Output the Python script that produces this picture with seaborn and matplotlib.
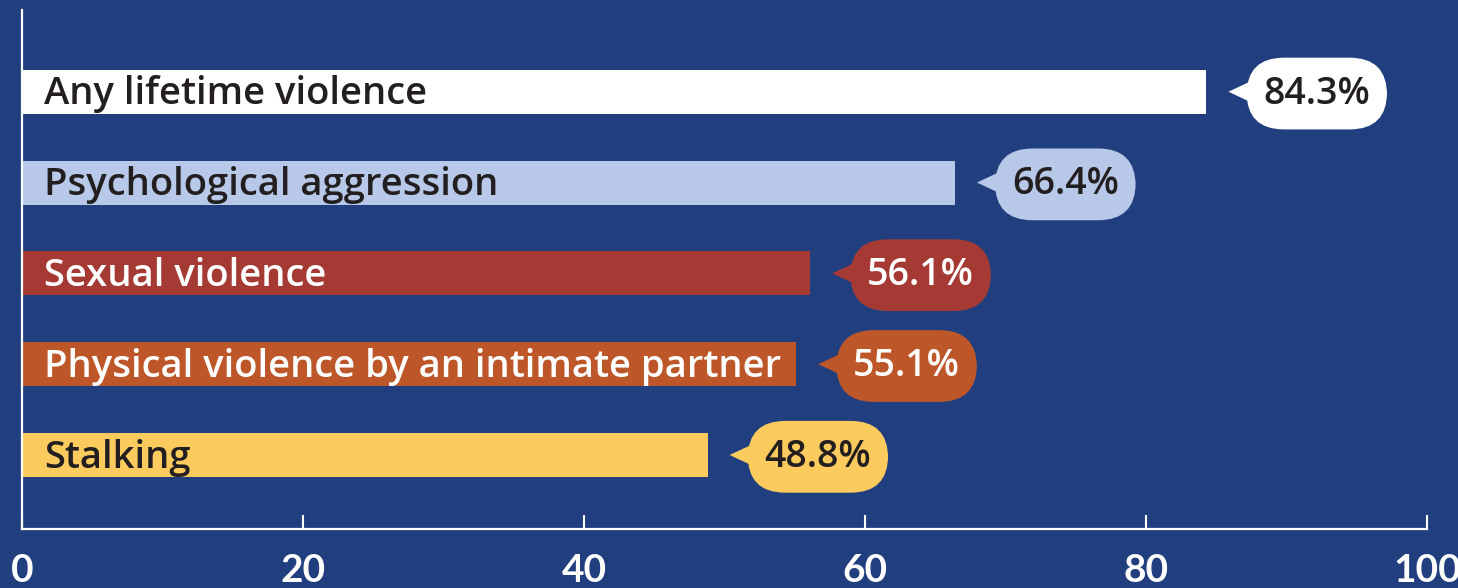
import matplotlib
matplotlib.use("Agg")
import matplotlib.pyplot as plt
from matplotlib.patches import Polygon
import seaborn as sns
import pandas as pd

# Chart data
categories = [
    "Any lifetime violence",
    "Psychological aggression",
    "Sexual violence",
    "Physical violence by an intimate partner",
    "Stalking",
]
percentages = [84.3, 66.4, 56.1, 55.1, 48.8]
bar_colors = ["#ffffff", "#b8c8e8", "#a53a35", "#bd5628", "#fccb5e"]
text_colors = ["#231f20", "#231f20", "#ffffff", "#ffffff", "#231f20"]
x_ticks = [0, 20, 40, 60, 80, 100]

BG = "#213f7f"
LABEL_FONT = ["Open Sans", "DejaVu Sans"]

sns.set_theme(style="white")
plt.rcParams["font.family"] = LABEL_FONT

df = pd.DataFrame({"category": categories, "value": percentages})

fig = plt.figure(figsize=(14.58, 5.88), dpi=100, facecolor=BG)
ax = fig.add_axes([22 / 1458, 59 / 588, 1405 / 1458, 519 / 588])
ax.set_facecolor(BG)

sns.barplot(data=df, x="value", y="category", hue="category",
            palette=bar_colors, orient="h", width=0.485,
            legend=False, ax=ax, saturation=1, linewidth=0)

ax.set_xlim(0, 100)
ax.set_ylim(4.815, -0.9)

px = 100 / 1405  # data units per pixel (x)
py = 1 / 90.75   # data units per pixel (y)
for i, (cat, val) in enumerate(zip(categories, percentages)):
    col = bar_colors[i]
    tc = text_colors[i]
    # label inside bar
    ax.text(22 * px, i + 0.03, cat, color=tc, fontsize=27.5,
            fontweight="semibold", va="center", ha="left")
    # pointer triangle
    tri = Polygon([[val + 22 * px, i], [val + 52 * px, i - 14 * py],
                   [val + 52 * px, i + 14 * py]], closed=True,
                  facecolor=col, edgecolor="none", zorder=3)
    ax.add_patch(tri)
    # pill bubble
    ax.text(val + 57 * px, i + 0.02, f"{val}%", color=tc, fontsize=27,
            fontweight="semibold", va="center", ha="left", zorder=4,
            bbox=dict(boxstyle="round,pad=0.45,rounding_size=1.0",
                      facecolor=col, edgecolor="none"))

ax.set_xticks(x_ticks)
ax.set_xticklabels([str(t) for t in x_ticks], fontsize=28, fontweight="bold",
                   color="white", family=["Lato", "DejaVu Sans"])
ax.set_yticks([])
ax.set_xlabel("")
ax.set_ylabel("")
ax.tick_params(axis="x", bottom=True, direction="in", length=10, width=1.5,
               color="white", pad=17)
for side in ["top", "right"]:
    ax.spines[side].set_visible(False)
for side in ["left", "bottom"]:
    ax.spines[side].set_color("white")
    ax.spines[side].set_linewidth(1.6)

fig.savefig("out.png", dpi=100, facecolor=BG)
